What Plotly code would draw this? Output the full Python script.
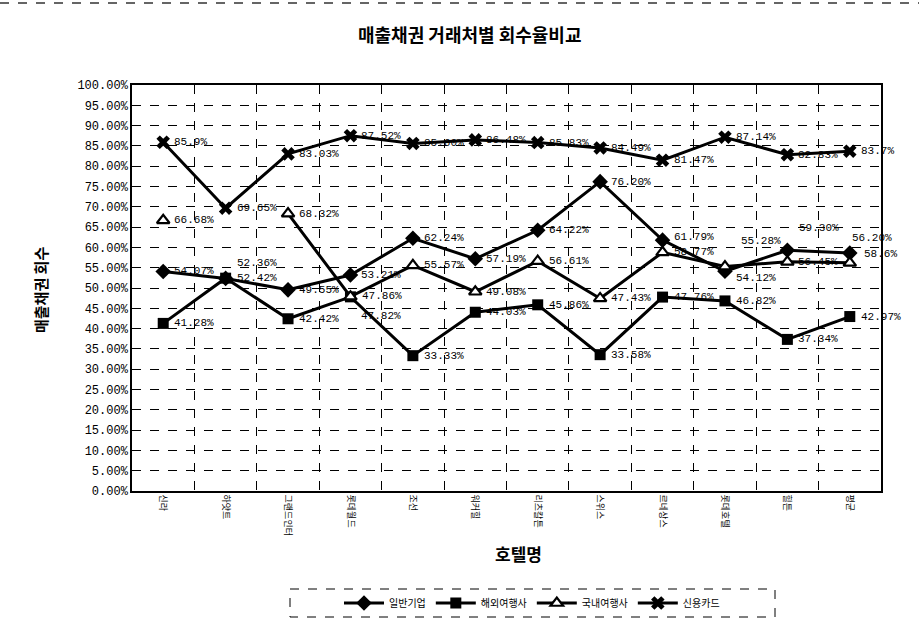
import plotly.graph_objects as go

# ---------------- data ----------------
hotels = ["신라", "하얏트", "그랜드인터", "롯데월드", "조선", "워커힐",
          "리츠칼튼", "스위스", "르네상스", "롯데호텔", "힐튼", "평균"]

series_names = ["일반기업", "해외여행사", "국내여행사", "신용카드"]

general = [54.07, 52.36, 49.55, 53.21, 62.24, 57.19, 64.22, 76.20, 61.79, 54.12, 59.30, 58.6]
overseas = [41.28, 52.42, 42.42, 47.82, 33.33, 44.03, 45.86, 33.58, 47.76, 46.82, 37.34, 42.97]
domestic = [66.68, None, 68.32, 47.86, 55.57, 49.08, 56.61, 47.43, 58.77, 55.28, 56.45, 56.20]
card = [85.9, 69.65, 83.03, 87.52, 85.60, 86.48, 85.83, 84.49, 81.47, 87.14, 82.83, 83.7]

general_labels = ["54.07%", "52.36%", "49.55%", "53.21%", "62.24%", "57.19%", "64.22%",
                  "76.20%", "61.79%", "54.12%", "59.30%", "58.6%"]
overseas_labels = ["41.28%", "52.42%", "42.42%", "47.82%", "33.33%", "44.03%", "45.86%",
                   "33.58%", "47.76%", "46.82%", "37.34%", "42.97%"]
domestic_labels = ["66.68%", "", "68.32%", "47.86%", "55.57%", "49.08%", "56.61%",
                   "47.43%", "58.77%", "55.28%", "56.45%", "56.20%"]
card_labels = ["85.9%", "69.65%", "83.03%", "87.52%", "85.60%", "86.48%", "85.83%",
               "84.49%", "81.47%", "87.14%", "82.83%", "83.7%"]

title_text = "매출채권 거래처별 회수율비교"
x_title = "호텔명"
y_title = "매출채권 회수"

# ---------------- styling ----------------
# label offsets (xshift, yshift) in px, default: to the right of the marker
D = (9, 0)
general_off = [D, (9, 15), D, D, D, D, D, D, (9, 3), (9, -7), (10, 22), (12, -1)]
overseas_off = [D, D, D, (9, -19), D, D, D, D, D, D, D, D]
domestic_off = [D, D, D, (10, 1), D, D, D, D, D, (14, 26), D, (0, 25)]
card_off = [D] * 12

LABEL_FONT = dict(family="Liberation Mono", size=11, color="black")
KFONT = "Noto Sans CJK KR"


def pct(vals):
    return [None if v is None else v / 100 for v in vals]


fig = go.Figure()

specs = [
    (general, general_labels, general_off,
     dict(symbol="diamond", size=12, color="black")),
    (overseas, overseas_labels, overseas_off,
     dict(symbol="square", size=11, color="black")),
    (domestic, domestic_labels, domestic_off,
     dict(symbol="triangle-up", size=11, color="white", line=dict(color="black", width=2.2))),
    (card, card_labels, card_off,
     dict(symbol="x", size=12, color="black")),
]

annotations = []
for name, (vals, labs, offs, mk) in zip(series_names, specs):
    fig.add_trace(go.Scatter(
        x=hotels, y=pct(vals), name=name,
        mode="lines+markers",
        line=dict(color="black", width=3),
        marker=mk,
        connectgaps=False, cliponaxis=False,
    ))
    for h, v, t, (dx, dy) in zip(hotels, vals, labs, offs):
        if v is None or not t:
            continue
        annotations.append(dict(
            x=h, y=v / 100, xref="x", yref="y", text=t, showarrow=False,
            xanchor="left", yanchor="middle", xshift=dx, yshift=dy,
            font=LABEL_FONT,
        ))

# plot area in pixels: x 132..881, y 85..491
L, Rr, T, B = 132, 881, 85, 491
W, H = 919, 636


def px_x(p):
    return (p - L) / (Rr - L)


def px_y(p):
    return (B - p) / (B - T)


annotations += [
    dict(text=title_text, x=px_x(469), y=px_y(34), xref="paper", yref="paper",
         xanchor="center", yanchor="middle", showarrow=False,
         font=dict(family=KFONT, size=18, color="black", weight="bold")),
    dict(text=y_title, x=px_x(40), y=px_y(290), xref="paper", yref="paper",
         xanchor="center", yanchor="middle", showarrow=False, textangle=-90,
         font=dict(family=KFONT, size=15, color="black", weight="bold")),
    dict(text=x_title, x=px_x(518), y=px_y(553), xref="paper", yref="paper",
         xanchor="center", yanchor="middle", showarrow=False,
         font=dict(family=KFONT, size=17, color="black", weight="bold")),
]

fig.update_layout(
    width=W, height=H,
    margin=dict(l=L, r=W - Rr, t=T, b=H - B),
    paper_bgcolor="white", plot_bgcolor="white",
    showlegend=True,
    legend=dict(orientation="h", x=px_x(532), xanchor="center",
                y=px_y(603), yanchor="middle",
                font=dict(family=KFONT, size=10, color="black"),
                itemwidth=40, bgcolor="rgba(0,0,0,0)"),
    annotations=annotations,
    shapes=[
        dict(type="rect", xref="paper", yref="paper",
             x0=px_x(290), x1=px_x(775), y0=px_y(589), y1=px_y(617),
             line=dict(color="black", width=1, dash="dash")),
        dict(type="line", xref="paper", yref="paper",
             x0=px_x(0), x1=px_x(919), y0=px_y(3), y1=px_y(3),
             line=dict(color="#333", width=1.5, dash="dash")),
    ],
)

fig.update_xaxes(
    type="category", tickson="boundaries", range=[-0.5, len(hotels) - 0.5],
    showgrid=True, gridcolor="black", gridwidth=1, griddash="dash",
    showline=True, mirror=True, linecolor="black", linewidth=1.5,
    ticks="", tickangle=90,
    tickfont=dict(family=KFONT, size=9, color="black"),
)
fig.update_yaxes(
    range=[0, 1], dtick=0.05, tickformat=".2%",
    showgrid=True, gridcolor="black", gridwidth=1, griddash="dash",
    showline=True, mirror=True, linecolor="black", linewidth=1.5,
    ticks="", zeroline=False,
    tickfont=dict(family="Liberation Mono", size=12, color="black"),
)

fig.write_html("out.html")
